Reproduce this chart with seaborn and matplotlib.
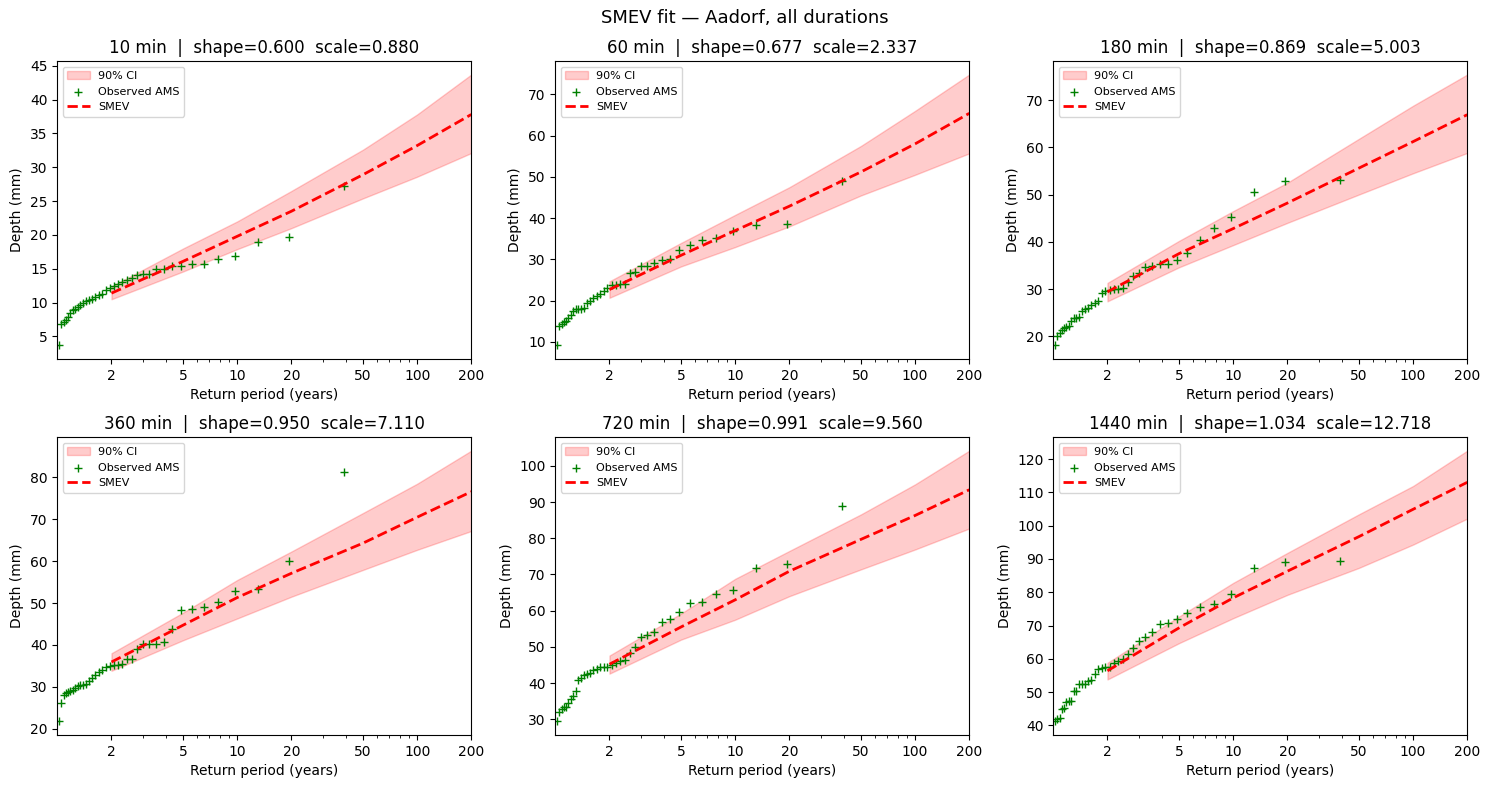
import numpy as np
import pandas as pd
import matplotlib
matplotlib.use("Agg")
import matplotlib.pyplot as plt
import seaborn as sns

# return periods of the ranked AMS (rank 1 = largest)
T_OBS = [39.0, 19.5, 13.0, 9.75, 7.8, 6.5, 5.571, 4.875, 4.333, 3.9,
         3.545, 3.25, 3.0, 2.786, 2.6, 2.438, 2.294, 2.167, 2.053, 1.95,
         1.857, 1.773, 1.696, 1.625, 1.56, 1.5, 1.444, 1.393, 1.345, 1.3,
         1.258, 1.219, 1.182, 1.147, 1.114, 1.083, 1.054, 1.026]
T_FIT = [2, 5, 10, 20, 50, 100, 200]

durations = [10, 60, 180, 360, 720, 1440]
shapes = [0.600, 0.677, 0.869, 0.950, 0.991, 1.034]
scales = [0.880, 2.337, 5.003, 7.110, 9.560, 12.718]

obs_10 = [27.2, 19.7, 18.9, 16.9, 16.5, 15.7, 15.7, 15.4, 15.4, 15.0,
          14.9, 14.3, 14.3, 14.1, 13.7, 13.3, 13.0, 12.7, 12.4, 12.1,
          11.8, 11.3, 11.1, 10.8, 10.6, 10.4, 10.2, 10.0, 9.7, 9.3,
          9.1, 8.9, 8.5, 7.9, 7.4, 7.2, 6.9, 3.7]
obs_60 = [49.0, 38.6, 38.3, 37.0, 35.3, 34.6, 33.6, 32.4, 30.2, 29.8,
          29.2, 28.4, 28.3, 26.9, 26.7, 24.1, 24.0, 23.9, 23.7, 23.1,
          22.3, 21.7, 21.1, 20.7, 20.0, 19.5, 18.2, 18.1, 18.0, 17.9,
          17.6, 16.6, 15.8, 15.0, 14.8, 14.4, 13.8, 9.2]
obs_180 = [53.1, 52.8, 50.5, 45.3, 42.9, 40.3, 37.7, 36.1, 35.4, 35.2,
           34.9, 34.7, 33.5, 32.7, 31.5, 30.2, 30.1, 30.0, 29.9, 29.6,
           29.2, 27.4, 27.1, 26.6, 26.0, 25.7, 25.3, 24.0, 23.9, 23.8,
           23.2, 22.1, 22.0, 21.8, 21.4, 20.7, 20.1, 18.1]
obs_360 = [81.3, 60.1, 53.3, 52.9, 50.2, 49.1, 48.6, 48.3, 43.8, 40.6,
           40.3, 40.3, 40.2, 39.1, 36.7, 36.6, 35.4, 35.1, 35.1, 35.0,
           34.6, 34.0, 33.6, 32.9, 32.0, 31.4, 30.6, 30.5, 30.4, 30.1,
           29.8, 29.3, 29.0, 28.8, 28.4, 28.1, 26.1, 21.7]
obs_720 = [88.9, 72.8, 71.8, 65.7, 64.6, 62.3, 62.1, 59.6, 57.8, 56.8,
           54.0, 53.2, 52.7, 50.1, 48.3, 46.4, 46.0, 45.5, 45.1, 44.4,
           44.4, 44.3, 43.9, 43.5, 42.9, 42.6, 42.1, 41.4, 40.9, 37.7,
           36.3, 35.5, 34.6, 33.5, 33.3, 32.8, 31.9, 29.4]
obs_1440 = [89.5, 89.1, 87.3, 79.4, 76.5, 75.7, 73.9, 72.0, 70.9, 70.5,
            68.0, 66.5, 65.5, 63.1, 61.4, 59.8, 59.4, 58.6, 57.6, 57.4,
            57.2, 56.8, 55.3, 53.6, 53.4, 52.5, 52.4, 52.3, 50.4, 50.3,
            47.4, 47.3, 47.0, 45.3, 45.0, 42.3, 41.8, 41.2]

fit_10 = [11.4, 16.1, 19.8, 23.5, 28.9, 33.2, 37.8]
fit_60 = [22.7, 31.0, 37.0, 42.9, 51.2, 58.0, 65.4]
fit_180 = [29.4, 37.5, 42.8, 48.2, 55.6, 61.2, 66.9]
fit_360 = [35.9, 44.7, 51.3, 57.1, 64.3, 70.5, 76.6]
fit_720 = [45.2, 55.5, 63.0, 70.9, 79.7, 86.3, 93.4]
fit_1440 = [56.4, 69.3, 78.3, 86.3, 96.7, 104.9, 113.0]

lo_10 = [10.5, 14.6, 17.9, 21.0, 25.4, 28.6, 32.1]
lo_60 = [20.7, 28.3, 33.0, 38.0, 45.5, 50.5, 55.7]
lo_180 = [27.4, 34.6, 39.3, 44.0, 50.0, 54.5, 58.8]
lo_360 = [33.8, 41.1, 46.3, 51.5, 57.9, 62.7, 67.2]
lo_720 = [42.6, 52.0, 57.5, 64.0, 71.4, 76.9, 82.7]
lo_1440 = [53.8, 64.7, 72.2, 79.2, 87.3, 94.3, 102.1]

hi_10 = [12.4, 18.0, 22.0, 26.5, 32.6, 37.8, 43.7]
hi_60 = [24.7, 34.0, 40.8, 47.5, 57.5, 66.0, 74.8]
hi_180 = [31.3, 40.2, 46.5, 52.5, 61.8, 68.8, 75.4]
hi_360 = [38.0, 47.7, 55.5, 62.3, 71.5, 78.5, 86.4]
hi_720 = [47.6, 59.2, 68.8, 76.5, 86.6, 94.9, 104.2]
hi_1440 = [58.8, 72.7, 82.8, 91.8, 103.4, 111.9, 122.5]

obs_all = [obs_10, obs_60, obs_180, obs_360, obs_720, obs_1440]
fit_all = [fit_10, fit_60, fit_180, fit_360, fit_720, fit_1440]
lo_all = [lo_10, lo_60, lo_180, lo_360, lo_720, lo_1440]
hi_all = [hi_10, hi_60, hi_180, hi_360, hi_720, hi_1440]

ticks = [2, 5, 10, 20, 50, 100, 200]

fig, axes = plt.subplots(2, 3, figsize=(14.89, 7.88), dpi=100)

for i, ax in enumerate(axes.flat):
    obs = pd.DataFrame({"T": T_OBS, "depth": obs_all[i]})
    fit = pd.DataFrame({"T": T_FIT, "depth": fit_all[i],
                        "lo": lo_all[i], "hi": hi_all[i]})

    ax.fill_between(fit["T"], fit["lo"], fit["hi"], color="red", alpha=0.2,
                    label="90% CI")
    sns.scatterplot(data=obs, x="T", y="depth", ax=ax, marker="+",
                    color="green", s=40, linewidth=1, label="Observed AMS")
    sns.lineplot(data=fit, x="T", y="depth", ax=ax, color="red",
                 linestyle="--", linewidth=2, label="SMEV")

    ax.set_xscale("log")
    ax.set_xlim(1, 200)
    ax.set_xticks(ticks, [str(t) for t in ticks])
    ax.set_xlabel("Return period (years)")
    ax.set_ylabel("Depth (mm)")
    ax.set_title(f"{durations[i]} min  |  shape={shapes[i]:.3f}  scale={scales[i]:.3f}",
                 fontsize=12)
    ax.legend(loc="upper left", fontsize=8)

fig.suptitle("SMEV fit — Aadorf, all durations", fontsize=13, y=0.988)
fig.subplots_adjust(left=0.0385, right=0.9854, top=0.9226, bottom=0.0673,
                    wspace=0.203, hspace=0.263)
fig.savefig("out.png", dpi=100)
